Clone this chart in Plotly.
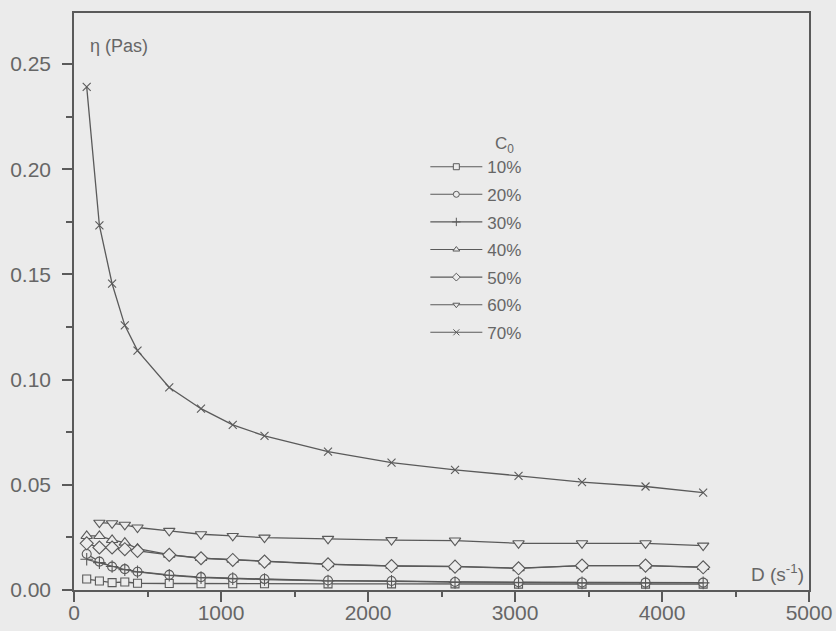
import plotly.graph_objects as go

# Shear rate D (1/s) shared by all series
shear_rate = [86.4, 172.8, 259.2, 345.6, 432, 648, 864, 1080, 1296, 1728,
              2160, 2592, 3024, 3456, 3888, 4280]

# Viscosity eta (Pa s) for each initial concentration C0
eta_10 = [0.0052, 0.0043, 0.0035, 0.0038, 0.0032, 0.0031, 0.0030, 0.0030,
          0.0030, 0.0029, 0.0029, 0.0029, 0.0028, 0.0028, 0.0028, 0.0028]
eta_20 = [0.0171, 0.0135, 0.0111, 0.0099, 0.0087, 0.0072, 0.0061, 0.0056,
          0.0052, 0.0045, 0.0043, 0.0038, 0.0037, 0.0036, 0.0035, 0.0035]
eta_30 = [0.0146, 0.0130, 0.0112, 0.0097, 0.0086, 0.0070, 0.0059, 0.0054,
          0.0050, 0.0043, 0.0041, 0.0036, 0.0035, 0.0034, 0.0034, 0.0034]
eta_40 = [0.0257, 0.0257, 0.0238, 0.0225, 0.0197, 0.0168, 0.0152, 0.0144,
          0.0136, 0.0123, 0.0115, 0.0112, 0.0104, 0.0116, 0.0116, 0.0109]
eta_50 = [0.0222, 0.0202, 0.0202, 0.0194, 0.0186, 0.0167, 0.0151, 0.0143,
          0.0135, 0.0122, 0.0114, 0.0111, 0.0103, 0.0116, 0.0116, 0.0108]
eta_60 = [None, 0.0320, 0.0317, 0.0310, 0.0297, 0.0281, 0.0265, 0.0257,
          0.0249, 0.0243, 0.0237, 0.0235, 0.0222, 0.0222, 0.0222, 0.0211]
eta_70 = [0.2392, 0.1733, 0.1456, 0.1258, 0.1138, 0.0963, 0.0862, 0.0785,
          0.0733, 0.0658, 0.0606, 0.0571, 0.0543, 0.0513, 0.0492, 0.0463]

labels = ["10%", "20%", "30%", "40%", "50%", "60%", "70%"]
series = [eta_10, eta_20, eta_30, eta_40, eta_50, eta_60, eta_70]
symbols = ["square", "circle", "cross-thin", "triangle-up", "diamond",
           "triangle-down", "x-thin"]
sizes = [8, 9, 9, 10, 10, 10, 8]

BG = "#ebebeb"
INK = "#5a5a5a"
TXT = "#666666"
FONT = "Arial, Liberation Sans, sans-serif"

fig = go.Figure()
for name, y, sym, sz in zip(labels, series, symbols, sizes):
    xs = [x for x, v in zip(shear_rate, y) if v is not None]
    ys = [v for v in y if v is not None]
    # plotted curve
    fig.add_trace(go.Scatter(
        x=xs, y=ys, name=name, mode="lines+markers", showlegend=False,
        line=dict(color=INK, width=1.3),
        marker=dict(symbol=sym, size=sz, color=BG,
                    line=dict(color=INK, width=1.1)),
    ))
    # compact legend key with a smaller symbol
    fig.add_trace(go.Scatter(
        x=[None], y=[None], name=name, mode="lines+markers",
        legendgroup=name,
        line=dict(color=INK, width=1.1),
        marker=dict(symbol=sym, size=6, color=BG,
                    line=dict(color=INK, width=1)),
    ))

axis_common = dict(
    showgrid=False, zeroline=False, showline=True, linecolor=INK,
    linewidth=1.5, mirror=True, ticks="outside", ticklen=10, tickwidth=1.5,
    tickcolor=INK, automargin=False,
    tickfont=dict(family=FONT, size=21, color=TXT),
)

fig.update_xaxes(range=[0, 5000], dtick=1000, tick0=0, ticklabelstandoff=-7,
                 minor=dict(dtick=500, ticks="outside", ticklen=5,
                            tickwidth=1.5, tickcolor=INK),
                 **axis_common)
fig.update_yaxes(range=[0, 0.2743], dtick=0.05, tick0=0, tickformat=".2f",
                 ticklabelstandoff=7,
                 minor=dict(dtick=0.025, ticks="outside", ticklen=6,
                            tickwidth=1.5, tickcolor=INK),
                 **axis_common)

fig.add_annotation(x=95, y=0.2585, xref="x", yref="y", xanchor="left",
                   yanchor="middle", showarrow=False,
                   text="\u03b7 (Pas)", font=dict(family=FONT, size=18, color=TXT))
fig.add_annotation(x=4783, y=0.0082, xref="x", yref="y", xanchor="center",
                   yanchor="middle", showarrow=False,
                   text="D (s<sup>-1</sup>)", font=dict(family=FONT, size=19, color=TXT))
fig.add_annotation(x=0.586, y=0.772, xref="paper", yref="paper",
                   xanchor="center", yanchor="middle", showarrow=False,
                   text="C<sub>0</sub>", font=dict(family=FONT, size=17, color=TXT))

fig.update_layout(
    width=836, height=631,
    margin=dict(l=74, r=27, t=13, b=41),
    paper_bgcolor=BG, plot_bgcolor=BG,
    showlegend=True,
    legend=dict(x=0.478, y=0.764, xanchor="left", yanchor="top",
                bgcolor="rgba(0,0,0,0)", itemwidth=52,
                traceorder="grouped", tracegroupgap=2.5,
                font=dict(family=FONT, size=17, color=TXT)),
)

fig.write_html("out.html")
